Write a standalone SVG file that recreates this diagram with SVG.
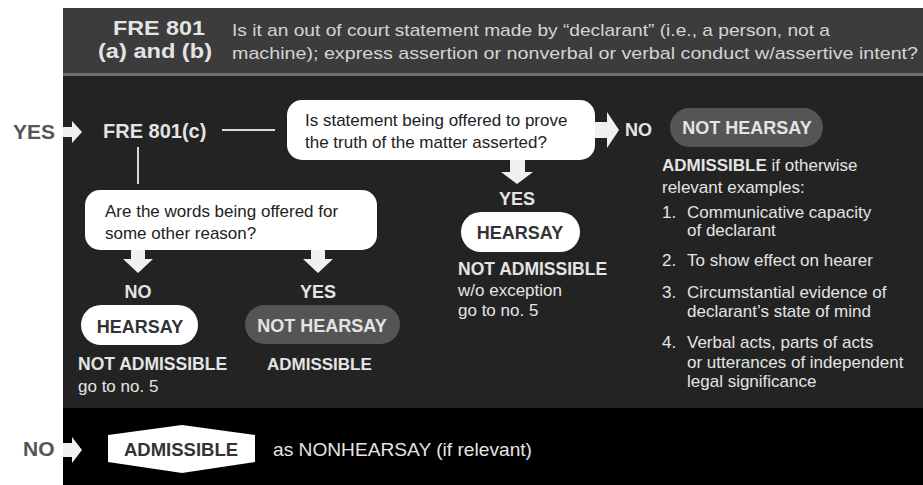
<svg xmlns="http://www.w3.org/2000/svg" width="923" height="485" viewBox="0 0 923 485">
<style>
text{font-family:"Liberation Sans",Arial,sans-serif;}
.b{font-weight:bold;}
.lt{fill:#e4e4e4;}
.dk{fill:#222;}
.gr{fill:#555;}
.t17{font-size:17px;}
.t18{font-size:18px;}
.mid{text-anchor:middle;}
.bubble{fill:#fff;}
.pillw{fill:#fff;}
.pillg{fill:#555;}
.arr{fill:#f0f0f0;}
.ln{stroke:#d8d8d8;stroke-width:2;fill:none;}
</style>
<rect x="0" y="0" width="923" height="485" fill="#fff"/>
<g id="panels">
<rect x="63" y="8" width="860" height="65" fill="#3c3c3c"/>
<rect x="63" y="73" width="860" height="3" fill="#6e6e6e"/>
<rect x="63" y="76" width="860" height="332" fill="#232323"/>
<rect x="63" y="408" width="860" height="77" fill="#000"/>
</g>
<g id="header">
<text x="159" y="35" class="b mid lt" font-size="20" textLength="92" lengthAdjust="spacingAndGlyphs">FRE 801</text>
<text x="155" y="58" class="b mid lt" font-size="20" textLength="114" lengthAdjust="spacingAndGlyphs">(a) and (b)</text>
<text x="232" y="36" class="t17" fill="#d4d4d4" textLength="598" lengthAdjust="spacingAndGlyphs">Is it an out of court statement made by “declarant” (i.e., a person, not a</text>
<text x="232" y="59" class="t17" fill="#d4d4d4" textLength="686" lengthAdjust="spacingAndGlyphs">machine); express assertion or nonverbal or verbal conduct w/assertive intent?</text>
</g>
<g id="connectors">
<polygon class="arr" points="63,127 72,127 72,121 82,132 72,143 72,137 63,137"/>
<line class="ln" x1="222" y1="130" x2="275" y2="130"/>
<line class="ln" x1="138" y1="147" x2="138" y2="184"/>
<polygon class="arr" points="590,122 607,122 607,112 619,130 607,148 607,138 590,138"/>
<polygon class="arr" points="510,156 525,156 525,172 533,172 517,184 501,172 510,172"/>
<polygon class="arr" points="131,246 145,246 145,259 153,259 138,273 123,259 131,259"/>
<polygon class="arr" points="311,246 325,246 325,259 333,259 318,273 303,259 311,259"/>
<polygon class="arr" points="63,443 72,443 72,437 82,450 72,463 72,457 63,457"/>
</g>
<g id="yes-entry">
<text x="13" y="139" class="b gr" font-size="21">YES</text>
</g>
<g id="fre801c">
<text x="103" y="138" class="b lt" font-size="20">FRE 801(c)</text>
</g>
<g id="q-truth">
<rect class="bubble" x="287" y="100" width="308" height="60" rx="15"/>
<text x="305" y="126" class="t17 dk">Is statement being offered to prove</text>
<text x="305" y="148" class="t17 dk">the truth of the matter asserted?</text>
</g>
<g id="no-right">
<text x="625" y="136" class="b lt t18">NO</text>
</g>
<g id="not-hearsay-right">
<rect class="pillg" x="670" y="108" width="153" height="39" rx="19.5"/>
<text x="747" y="134" class="b mid lt t18">NOT HEARSAY</text>
</g>
<g id="examples">
<text x="662" y="171" class="t17 lt"><tspan class="b">ADMISSIBLE</tspan> if otherwise</text>
<text x="662" y="193" class="t17 lt">relevant examples:</text>
<text x="662" y="218" class="t17 lt">1.</text>
<text x="687" y="218" class="t17 lt">Communicative capacity</text>
<text x="687" y="236" class="t17 lt">of declarant</text>
<text x="662" y="266" class="t17 lt">2.</text>
<text x="687" y="266" class="t17 lt">To show effect on hearer</text>
<text x="662" y="298" class="t17 lt">3.</text>
<text x="687" y="298" class="t17 lt">Circumstantial evidence of</text>
<text x="687" y="317" class="t17 lt">declarant’s state of mind</text>
<text x="662" y="348" class="t17 lt">4.</text>
<text x="687" y="348" class="t17 lt">Verbal acts, parts of acts</text>
<text x="687" y="368" class="t17 lt">or utterances of independent</text>
<text x="687" y="387" class="t17 lt">legal significance</text>
</g>
<g id="yes-mid">
<text x="517" y="205" class="b mid lt t18">YES</text>
</g>
<g id="hearsay-mid">
<rect class="pillw" x="461" y="212" width="119" height="40" rx="20"/>
<text x="520" y="239" class="b mid t18" fill="#333">HEARSAY</text>
<text x="458" y="275" class="b lt" font-size="17.5">NOT ADMISSIBLE</text>
<text x="458" y="296" class="t17 lt">w/o exception</text>
<text x="458" y="316" class="t17 lt">go to no. 5</text>
</g>
<g id="q-other">
<rect class="bubble" x="85" y="190" width="292" height="60" rx="15"/>
<text x="105" y="217" class="t17 dk">Are the words being offered for</text>
<text x="105" y="239" class="t17 dk">some other reason?</text>
</g>
<g id="no-left">
<text x="138" y="298" class="b mid lt t18">NO</text>
</g>
<g id="yes-left">
<text x="318" y="298" class="b mid lt t18">YES</text>
</g>
<g id="hearsay-left">
<rect class="pillw" x="81" y="305" width="117" height="40" rx="20"/>
<text x="140" y="333" class="b mid t18" fill="#333">HEARSAY</text>
<text x="78" y="370" class="b lt" font-size="17.5">NOT ADMISSIBLE</text>
<text x="78" y="392" class="t17 lt">go to no. 5</text>
</g>
<g id="not-hearsay-left">
<rect class="pillg" x="245" y="305" width="155" height="39" rx="19.5"/>
<text x="322" y="332" class="b mid lt t18">NOT HEARSAY</text>
<text x="267" y="370" class="b lt t17">ADMISSIBLE</text>
</g>
<g id="no-entry">
<text x="23" y="456" class="b gr" font-size="21">NO</text>
</g>
<g id="admissible-final">
<polygon fill="#fff" points="108,435 182,425 255,435 255,462 182,473 108,462"/>
<text x="181" y="456" class="b mid" font-size="18.5" fill="#333">ADMISSIBLE</text>
<text x="273" y="456" class="lt" font-size="19" textLength="259" lengthAdjust="spacingAndGlyphs">as NONHEARSAY (if relevant)</text>
</g>
</svg>
